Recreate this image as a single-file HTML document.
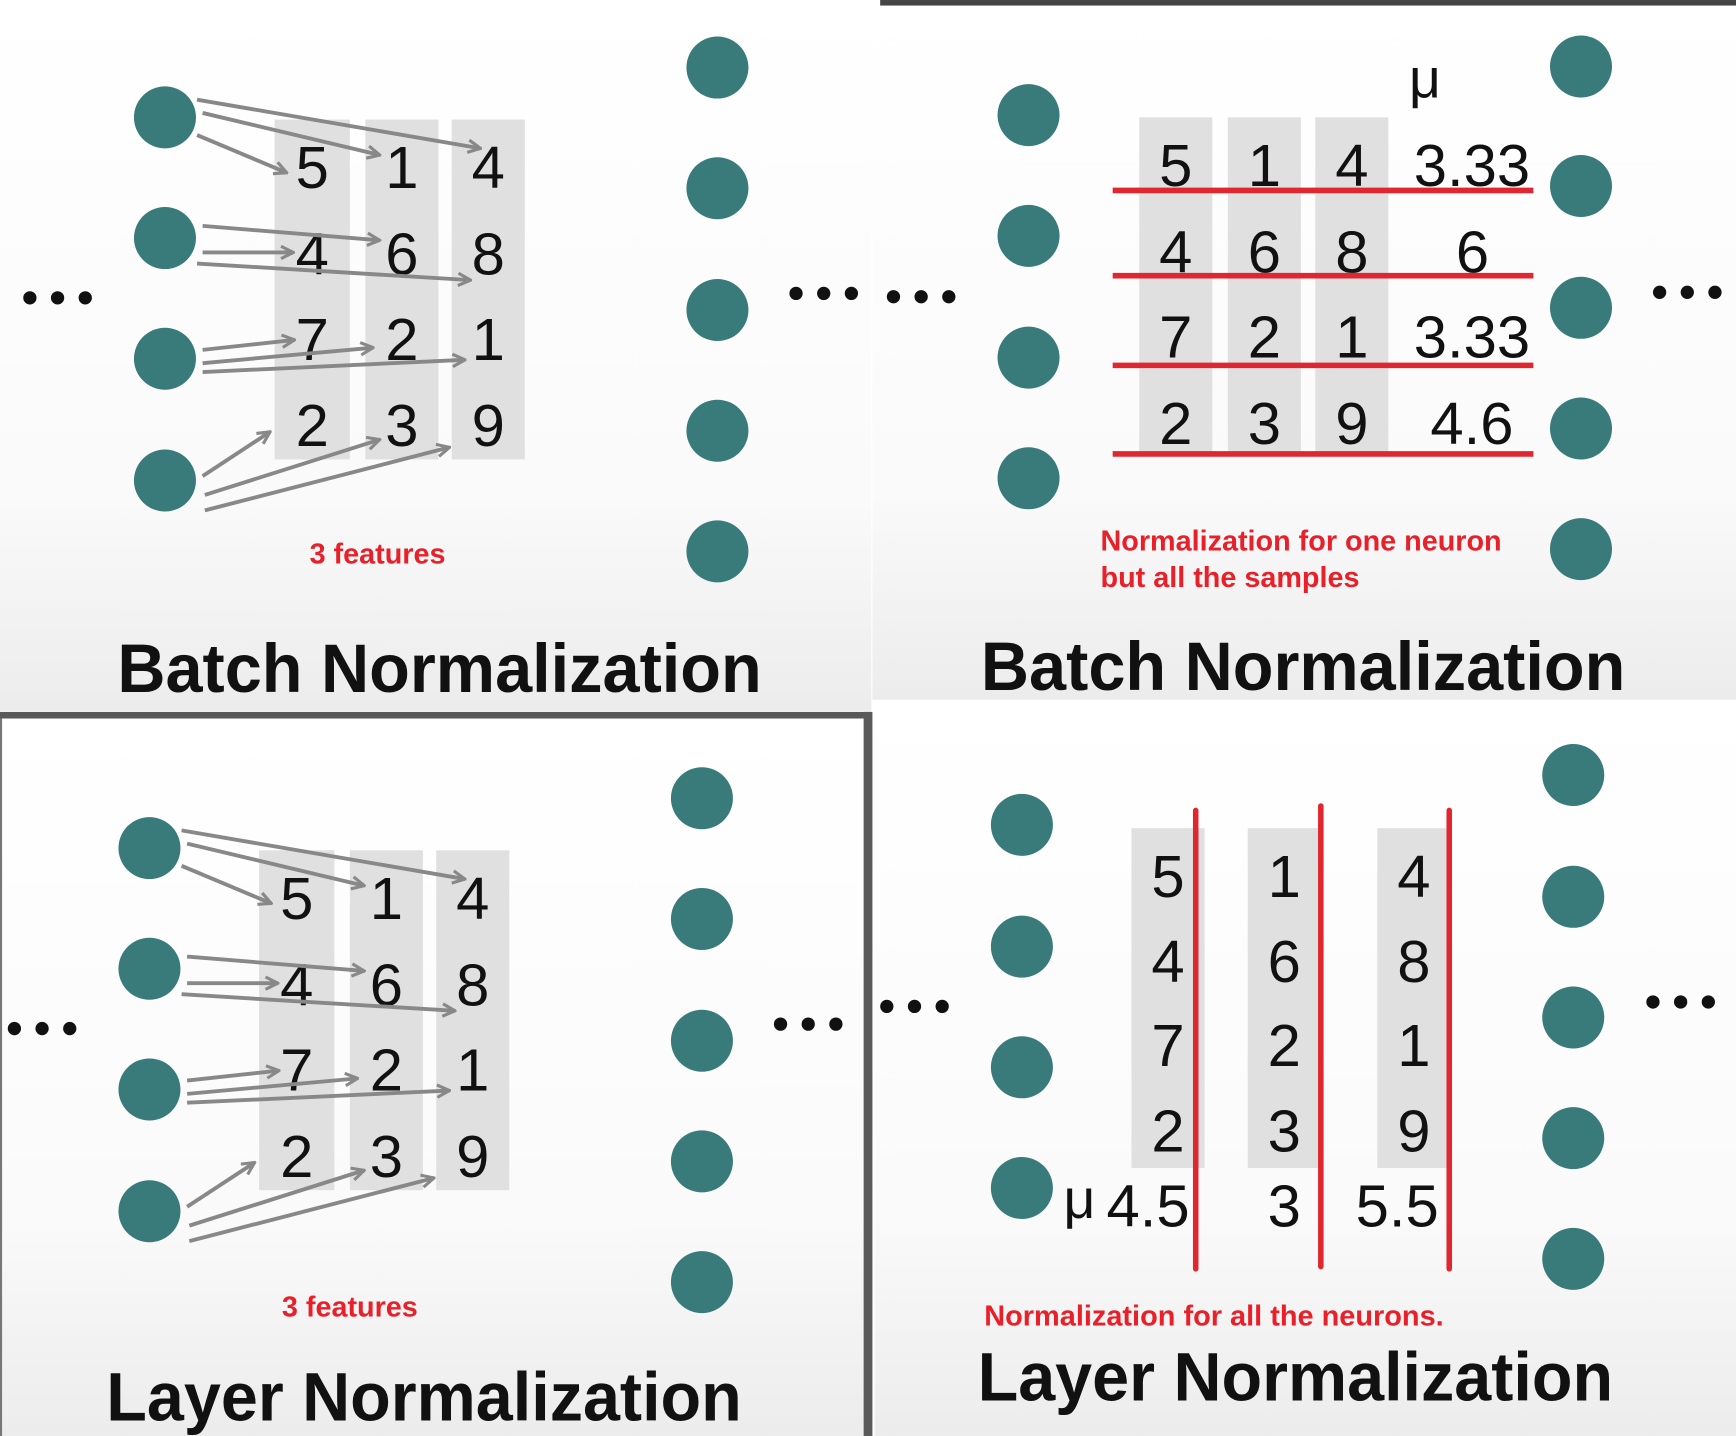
<!DOCTYPE html>
<html><head><meta charset="utf-8"><style>
html,body{margin:0;padding:0;background:#fff;}
svg{display:block;}
text{font-family:"Liberation Sans",sans-serif;}
</style></head><body>
<svg width="1736" height="1436" viewBox="0 0 1568 1297" xmlns="http://www.w3.org/2000/svg">
<defs>
<linearGradient id="bg" x1="0" y1="0" x2="0" y2="1">
<stop offset="0" stop-color="#ffffff"/><stop offset="0.7" stop-color="#fafafa"/><stop offset="1" stop-color="#ececec"/>
</linearGradient>
<marker id="ah" viewBox="0 0 10 10" refX="9" refY="5" markerWidth="4" markerHeight="4" orient="auto">
<path d="M1,1 L9,5 L1,9" fill="none" stroke="#888" stroke-width="2"/>
</marker>
</defs>
<rect width="1568" height="1297" fill="#fff"/>
<!-- panels -->
<rect x="0" y="0" width="787" height="642" fill="url(#bg)"/>
<rect x="788" y="5" width="780" height="627" fill="url(#bg)"/>
<rect x="795" y="0" width="773" height="5" fill="#444"/>
<rect x="0" y="643" width="787" height="6" fill="#5a5a5a"/>
<rect x="780" y="643" width="8" height="654" fill="#5a5a5a"/>
<rect x="0" y="649" width="2" height="648" fill="#777"/>
<rect x="2" y="649" width="778" height="648" fill="url(#bg)"/>
<rect x="790" y="636" width="778" height="661" fill="url(#bg)"/>

<!-- TOP LEFT -->
<g>
<rect x="248" y="108" width="68" height="307" fill="#e0e0e0"/>
<rect x="330" y="108" width="66" height="307" fill="#e0e0e0"/>
<rect x="408" y="108" width="66" height="307" fill="#e0e0e0"/>
<g font-size="54" text-anchor="middle" fill="#111">
<text x="282" y="170">5</text><text x="363" y="170">1</text><text x="441" y="170">4</text>
<text x="282" y="248">4</text><text x="363" y="248">6</text><text x="441" y="248">8</text>
<text x="282" y="325">7</text><text x="363" y="325">2</text><text x="441" y="325">1</text>
<text x="282" y="403">2</text><text x="363" y="403">3</text><text x="441" y="403">9</text>
</g>
<g fill="#387b7a">
<circle cx="149" cy="106" r="28"/><circle cx="149" cy="215" r="28"/><circle cx="149" cy="324" r="28"/><circle cx="149" cy="434" r="28"/>
<circle cx="648" cy="61" r="28"/><circle cx="648" cy="170" r="28"/><circle cx="648" cy="280" r="28"/><circle cx="648" cy="389" r="28"/><circle cx="648" cy="498" r="28"/>
</g>
<g stroke="#888" stroke-width="3.5" marker-end="url(#ah)" fill="none">
<line x1="178" y1="90" x2="434" y2="134"/><line x1="183" y1="102" x2="343" y2="140"/><line x1="178" y1="122" x2="259" y2="156"/>
<line x1="183" y1="204" x2="343" y2="217"/><line x1="183" y1="228" x2="265" y2="228"/><line x1="178" y1="238" x2="425" y2="253"/>
<line x1="183" y1="316" x2="266" y2="307"/><line x1="183" y1="328" x2="337" y2="314"/><line x1="183" y1="336" x2="420" y2="325"/>
<line x1="183" y1="430" x2="244" y2="390"/><line x1="185" y1="447" x2="343" y2="397"/><line x1="185" y1="461" x2="406" y2="404"/>
</g>
<g fill="#111"><circle cx="27" cy="269" r="6"/><circle cx="52" cy="269" r="6"/><circle cx="77" cy="269" r="6"/>
<circle cx="719" cy="265" r="6"/><circle cx="744" cy="265" r="6"/><circle cx="769" cy="265" r="6"/></g>
<text x="341" y="509" font-size="26" font-weight="bold" fill="#e8202a" text-anchor="middle">3 features</text>
<text x="397" y="625" font-size="62" font-weight="bold" fill="#111" text-anchor="middle" textLength="582" lengthAdjust="spacingAndGlyphs">Batch Normalization</text>
</g>

<!-- BOTTOM LEFT -->
<g transform="translate(-14,660)">
<rect x="248" y="108" width="68" height="307" fill="#e0e0e0"/>
<rect x="330" y="108" width="66" height="307" fill="#e0e0e0"/>
<rect x="408" y="108" width="66" height="307" fill="#e0e0e0"/>
<g font-size="54" text-anchor="middle" fill="#111">
<text x="282" y="170">5</text><text x="363" y="170">1</text><text x="441" y="170">4</text>
<text x="282" y="248">4</text><text x="363" y="248">6</text><text x="441" y="248">8</text>
<text x="282" y="325">7</text><text x="363" y="325">2</text><text x="441" y="325">1</text>
<text x="282" y="403">2</text><text x="363" y="403">3</text><text x="441" y="403">9</text>
</g>
<g fill="#387b7a">
<circle cx="149" cy="106" r="28"/><circle cx="149" cy="215" r="28"/><circle cx="149" cy="324" r="28"/><circle cx="149" cy="434" r="28"/>
<circle cx="648" cy="61" r="28"/><circle cx="648" cy="170" r="28"/><circle cx="648" cy="280" r="28"/><circle cx="648" cy="389" r="28"/><circle cx="648" cy="498" r="28"/>
</g>
<g stroke="#888" stroke-width="3.5" marker-end="url(#ah)" fill="none">
<line x1="178" y1="90" x2="434" y2="134"/><line x1="183" y1="102" x2="343" y2="140"/><line x1="178" y1="122" x2="259" y2="156"/>
<line x1="183" y1="204" x2="343" y2="217"/><line x1="183" y1="228" x2="265" y2="228"/><line x1="178" y1="238" x2="425" y2="253"/>
<line x1="183" y1="316" x2="266" y2="307"/><line x1="183" y1="328" x2="337" y2="314"/><line x1="183" y1="336" x2="420" y2="325"/>
<line x1="183" y1="430" x2="244" y2="390"/><line x1="185" y1="447" x2="343" y2="397"/><line x1="185" y1="461" x2="406" y2="404"/>
</g>
<g fill="#111"><circle cx="27" cy="269" r="6"/><circle cx="52" cy="269" r="6"/><circle cx="77" cy="269" r="6"/>
<circle cx="719" cy="265" r="6"/><circle cx="744" cy="265" r="6"/><circle cx="769" cy="265" r="6"/></g>
<text x="330" y="529" font-size="26" font-weight="bold" fill="#e8202a" text-anchor="middle">3 features</text>
</g>
<text x="383" y="1283" font-size="62" font-weight="bold" fill="#111" text-anchor="middle" textLength="574" lengthAdjust="spacingAndGlyphs">Layer Normalization</text>

<!-- TOP RIGHT -->
<g>
<rect x="1029" y="106" width="66" height="302" fill="#e0e0e0"/>
<rect x="1109" y="106" width="66" height="302" fill="#e0e0e0"/>
<rect x="1188" y="106" width="66" height="302" fill="#e0e0e0"/>
<g font-size="54" text-anchor="middle" fill="#111">
<text x="1062" y="168">5</text><text x="1142" y="168">1</text><text x="1221" y="168">4</text>
<text x="1062" y="246">4</text><text x="1142" y="246">6</text><text x="1221" y="246">8</text>
<text x="1062" y="323">7</text><text x="1142" y="323">2</text><text x="1221" y="323">1</text>
<text x="1062" y="401">2</text><text x="1142" y="401">3</text><text x="1221" y="401">9</text>
</g>
<g font-size="54" text-anchor="end" fill="#111">
<text x="1382" y="168">3.33</text><text x="1345" y="246">6</text><text x="1382" y="323">3.33</text><text x="1367" y="401">4.6</text>
</g>
<text x="1287" y="88" font-size="50" text-anchor="middle" fill="#111" font-family="Liberation Serif, serif">μ</text>
<g stroke="#e0262e" stroke-width="5">
<line x1="1005" y1="172" x2="1385" y2="172"/><line x1="1005" y1="249" x2="1385" y2="249"/>
<line x1="1005" y1="330" x2="1385" y2="330"/><line x1="1005" y1="410" x2="1385" y2="410"/>
</g>
<g fill="#387b7a">
<circle cx="929" cy="104" r="28"/><circle cx="929" cy="213" r="28"/><circle cx="929" cy="323" r="28"/><circle cx="929" cy="432" r="28"/>
<circle cx="1428" cy="60" r="28"/><circle cx="1428" cy="168" r="28"/><circle cx="1428" cy="278" r="28"/><circle cx="1428" cy="387" r="28"/><circle cx="1428" cy="496" r="28"/>
</g>
<g fill="#111"><circle cx="807" cy="268" r="6"/><circle cx="832" cy="268" r="6"/><circle cx="857" cy="268" r="6"/>
<circle cx="1499" cy="264" r="6"/><circle cx="1524" cy="264" r="6"/><circle cx="1549" cy="264" r="6"/></g>
<g font-size="26" font-weight="bold" fill="#e8202a">
<text x="994" y="497">Normalization for one neuron</text>
<text x="994" y="530">but all the samples</text>
</g>
<text x="1177" y="623" font-size="62" font-weight="bold" fill="#111" text-anchor="middle" textLength="582" lengthAdjust="spacingAndGlyphs">Batch Normalization</text>
</g>

<!-- BOTTOM RIGHT -->
<g>
<rect x="1022" y="748" width="66" height="307" fill="#e0e0e0"/>
<rect x="1127" y="748" width="65" height="307" fill="#e0e0e0"/>
<rect x="1244" y="748" width="66" height="307" fill="#e0e0e0"/>
<g font-size="54" text-anchor="middle" fill="#111">
<text x="1055" y="810">5</text><text x="1160" y="810">1</text><text x="1277" y="810">4</text>
<text x="1055" y="887">4</text><text x="1160" y="887">6</text><text x="1277" y="887">8</text>
<text x="1055" y="963">7</text><text x="1160" y="963">2</text><text x="1277" y="963">1</text>
<text x="1055" y="1040">2</text><text x="1160" y="1040">3</text><text x="1277" y="1040">9</text>
<text x="1037" y="1108">4.5</text><text x="1160" y="1108">3</text><text x="1262" y="1108">5.5</text>
</g>
<text x="975" y="1100" font-size="50" text-anchor="middle" fill="#111" font-family="Liberation Serif, serif">μ</text>
<g stroke="#e0262e" stroke-width="5" stroke-linecap="round">
<line x1="1080" y1="732" x2="1080" y2="1146"/><line x1="1193" y1="728" x2="1193" y2="1144"/><line x1="1309" y1="732" x2="1309" y2="1146"/>
</g>
<g fill="#387b7a">
<circle cx="923" cy="745" r="28"/><circle cx="923" cy="855" r="28"/><circle cx="923" cy="964" r="28"/><circle cx="923" cy="1073" r="28"/>
<circle cx="1421" cy="700" r="28"/><circle cx="1421" cy="810" r="28"/><circle cx="1421" cy="919" r="28"/><circle cx="1421" cy="1028" r="28"/><circle cx="1421" cy="1137" r="28"/>
</g>
<g fill="#111"><circle cx="801" cy="909" r="6"/><circle cx="826" cy="909" r="6"/><circle cx="851" cy="909" r="6"/>
<circle cx="1493" cy="905" r="6"/><circle cx="1518" cy="905" r="6"/><circle cx="1543" cy="905" r="6"/></g>
<text x="889" y="1197" font-size="26" font-weight="bold" fill="#e8202a" textLength="415" lengthAdjust="spacingAndGlyphs">Normalization for all the neurons.</text>
<text x="1170" y="1265" font-size="62" font-weight="bold" fill="#111" text-anchor="middle" textLength="574" lengthAdjust="spacingAndGlyphs">Layer Normalization</text>
</g>
</svg>
</body></html>
